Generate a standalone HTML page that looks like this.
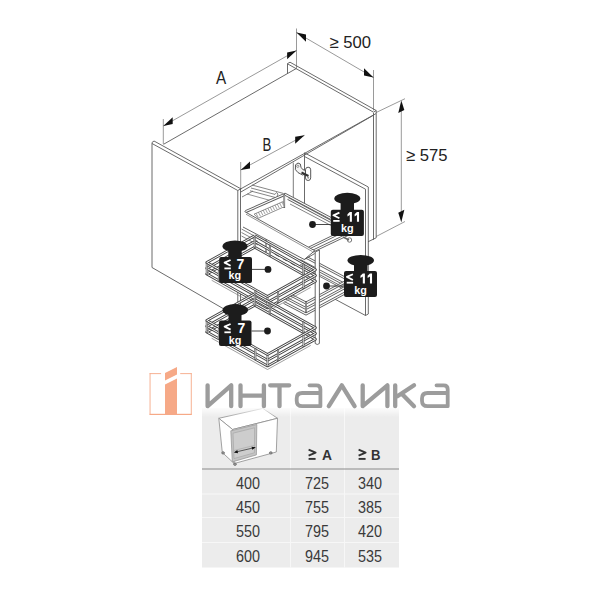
<!DOCTYPE html><html><head><meta charset="utf-8"><style>html,body{margin:0;padding:0;background:#fff;overflow:hidden;width:600px;height:600px;}svg{display:block;}text{font-family:"Liberation Sans",sans-serif;}</style></head><body>
<svg width="600" height="600" viewBox="0 0 600 600">
<rect width="600" height="600" fill="#fff"/>
<rect x="202" y="408" width="197" height="159.5" fill="#ececec"/>
<rect x="202" y="493.5" width="197" height="1" fill="#f7f7f7"/>
<rect x="202" y="517.0" width="197" height="1" fill="#f7f7f7"/>
<rect x="202" y="542.0" width="197" height="1" fill="#f7f7f7"/>
<rect x="290.0" y="408" width="1" height="160" fill="#f7f7f7"/>
<rect x="344.0" y="408" width="1" height="160" fill="#f7f7f7"/>
<rect x="202" y="468.5" width="197" height="1" fill="#8a8a8a"/>
<path d="M308.60,449.60 L315.60,452.58 L308.60,455.55" fill="none" stroke="#333" stroke-width="1.9" stroke-linejoin="round" stroke-linejoin="miter" stroke-linecap="butt"/>
<path d="M308.60,458.90 L315.60,458.90" fill="none" stroke="#333" stroke-width="1.9" stroke-linejoin="round" />
<path d="M358.60,449.60 L365.60,452.58 L358.60,455.55" fill="none" stroke="#333" stroke-width="1.9" stroke-linejoin="round" stroke-linejoin="miter" stroke-linecap="butt"/>
<path d="M358.60,458.90 L365.60,458.90" fill="none" stroke="#333" stroke-width="1.9" stroke-linejoin="round" />
<text x="322" y="460.3" font-size="15.5" font-weight="bold" fill="#333" textLength="10" lengthAdjust="spacingAndGlyphs">A</text>
<text x="371" y="460.3" font-size="15.5" font-weight="bold" fill="#333" textLength="9.5" lengthAdjust="spacingAndGlyphs">B</text>
<text x="236" y="489.0" font-size="15.8" font-weight="normal" fill="#3a3a3a" textLength="24" lengthAdjust="spacingAndGlyphs">400</text>
<text x="305" y="489.0" font-size="15.8" font-weight="normal" fill="#3a3a3a" textLength="24" lengthAdjust="spacingAndGlyphs">725</text>
<text x="358" y="489.0" font-size="15.8" font-weight="normal" fill="#3a3a3a" textLength="24" lengthAdjust="spacingAndGlyphs">340</text>
<text x="236" y="513.2" font-size="15.8" font-weight="normal" fill="#3a3a3a" textLength="24" lengthAdjust="spacingAndGlyphs">450</text>
<text x="305" y="513.2" font-size="15.8" font-weight="normal" fill="#3a3a3a" textLength="24" lengthAdjust="spacingAndGlyphs">755</text>
<text x="358" y="513.2" font-size="15.8" font-weight="normal" fill="#3a3a3a" textLength="24" lengthAdjust="spacingAndGlyphs">385</text>
<text x="236" y="537.4" font-size="15.8" font-weight="normal" fill="#3a3a3a" textLength="24" lengthAdjust="spacingAndGlyphs">550</text>
<text x="305" y="537.4" font-size="15.8" font-weight="normal" fill="#3a3a3a" textLength="24" lengthAdjust="spacingAndGlyphs">795</text>
<text x="358" y="537.4" font-size="15.8" font-weight="normal" fill="#3a3a3a" textLength="24" lengthAdjust="spacingAndGlyphs">420</text>
<text x="236" y="561.6" font-size="15.8" font-weight="normal" fill="#3a3a3a" textLength="24" lengthAdjust="spacingAndGlyphs">600</text>
<text x="305" y="561.6" font-size="15.8" font-weight="normal" fill="#3a3a3a" textLength="24" lengthAdjust="spacingAndGlyphs">945</text>
<text x="358" y="561.6" font-size="15.8" font-weight="normal" fill="#3a3a3a" textLength="24" lengthAdjust="spacingAndGlyphs">535</text>
<path d="M218.80,418.30 L262.80,408.40 L277.50,418.30 L232.60,429.50 Z" fill="#fff" stroke="#8c8c8c" stroke-width="0.8" stroke-linejoin="round" />
<path d="M218.80,418.30 L222.30,452.50 L234.20,463.50 L232.60,429.50 Z" fill="#fff" stroke="#8c8c8c" stroke-width="0.8" stroke-linejoin="round" />
<path d="M232.60,429.50 L277.50,418.30 L276.30,452.00 L234.20,463.50 Z" fill="#fff" stroke="#8c8c8c" stroke-width="0.8" stroke-linejoin="round" />
<path d="M230.80,430.80 L256.80,424.40 L256.40,454.90 L232.30,461.90 Z" fill="#c4c4c4" stroke="#999" stroke-width="0.8" stroke-linejoin="round" />
<path d="M233.00,433.20 L254.60,427.80 L254.40,452.80 L234.00,458.60 Z" fill="#cdcdcd" stroke="#a8a8a8" stroke-width="0.7" stroke-linejoin="round" />
<path d="M233.60,450.60 L254.40,445.40" fill="none" stroke="#aaa" stroke-width="0.7" stroke-linejoin="round" />
<ellipse cx="223.1" cy="452.9" rx="1.4" ry="1.2" fill="#999" stroke="#666" stroke-width="0.7"/>
<ellipse cx="235" cy="464.2" rx="1.4" ry="1.2" fill="#999" stroke="#666" stroke-width="0.7"/>
<ellipse cx="270.8" cy="452.9" rx="1.4" ry="1.2" fill="#999" stroke="#666" stroke-width="0.7"/>
<path d="M235.00,452.20 L254.60,447.60" fill="none" stroke="#222" stroke-width="0.7" stroke-linejoin="round" />
<path d="M233.80,452.50 L238.05,453.15 L237.34,450.03 Z" fill="#111" stroke="none" stroke-width="0" stroke-linejoin="round" />
<path d="M255.80,447.30 L252.26,449.77 L251.55,446.65 Z" fill="#111" stroke="none" stroke-width="0" stroke-linejoin="round" />
<defs><linearGradient id="halo" x1="0" y1="0" x2="0" y2="1"><stop offset="0" stop-color="#fff" stop-opacity="0.85"/><stop offset="1" stop-color="#fff" stop-opacity="0"/></linearGradient></defs>
<rect x="202" y="408" width="197" height="9" fill="url(#halo)"/>
<rect x="149.6" y="373.2" width="0.9" height="41.6" fill="#f6a987"/>
<rect x="190.8" y="373.2" width="0.9" height="41.6" fill="#f6a987"/>
<rect x="149.6" y="373.2" width="11.5" height="0.9" fill="#f6a987"/>
<rect x="180.2" y="373.2" width="11.5" height="0.9" fill="#f6a987"/>
<rect x="149.6" y="413.8" width="42.1" height="1.2" fill="#f6a987"/>
<path d="M165.00,373.00 L177.00,367.00 L177.00,374.50 L165.00,380.50 Z" fill="#f6a987" stroke="none" stroke-width="0" stroke-linejoin="round" />
<path d="M165.00,384.50 L177.00,378.50 L177.00,414.80 L165.00,414.80 Z" fill="#f6a987" stroke="none" stroke-width="0" stroke-linejoin="round" />
<path d="M207.6,385.3 V406.2 L231.2,385.3 V406.2" fill="none" stroke="#9c9c9c" stroke-width="4.3" stroke-linecap="round" stroke-linejoin="round"/>
<path d="M240.5,385.3 V406.2 M263.9,385.3 V406.2 M240.5,395.7 H263.9" fill="none" stroke="#9c9c9c" stroke-width="4.3" stroke-linecap="round" stroke-linejoin="round"/>
<path d="M270.2,385.3 H289.2 M279.5,385.3 V406.2" fill="none" stroke="#9c9c9c" stroke-width="4.3" stroke-linecap="round" stroke-linejoin="round"/>
<path d="M309.5,385.3 H316.4 Q320.4,385.3 320.4,389.3 V406.2 M320.4,393 H302.2 Q296.7,393 296.7,398.5 V400.7 Q296.7,406.2 302.2,406.2 H320.4" fill="none" stroke="#9c9c9c" stroke-width="3.8" stroke-linecap="round" stroke-linejoin="round"/>
<path d="M328.8,406.2 L341.8,385.3 L354.6,406.2" fill="none" stroke="#9c9c9c" stroke-width="4.3" stroke-linecap="round" stroke-linejoin="round"/>
<path d="M362.7,385.3 V406.2 L387.4,385.3 V406.2" fill="none" stroke="#9c9c9c" stroke-width="4.3" stroke-linecap="round" stroke-linejoin="round"/>
<path d="M395.2,385.3 V406.2 M397,396.5 L414,385.3 M402,394 L414,406.2" fill="none" stroke="#9c9c9c" stroke-width="4.3" stroke-linecap="round" stroke-linejoin="round"/>
<path d="M436.5,385.3 H443.7 Q447.7,385.3 447.7,389.3 V406.2 M447.7,393 H427.5 Q422,393 422,398.5 V400.7 Q422,406.2 427.5,406.2 H447.7" fill="none" stroke="#9c9c9c" stroke-width="3.8" stroke-linecap="round" stroke-linejoin="round"/>
<path d="M163.50,144.30 L296.50,68.40" fill="none" stroke="#5a5a5a" stroke-width="0.9" stroke-linejoin="round" />
<path d="M287.50,73.50 L287.50,63.60 L290.00,62.20 L376.20,110.50" fill="none" stroke="#5a5a5a" stroke-width="0.9" stroke-linejoin="round" />
<path d="M287.50,63.80 L373.50,112.20" fill="none" stroke="#5a5a5a" stroke-width="0.9" stroke-linejoin="round" />
<path d="M152.00,267.50 L152.00,142.50 L154.00,141.00 L240.50,188.60" fill="none" stroke="#5a5a5a" stroke-width="0.9" stroke-linejoin="round" />
<path d="M152.00,143.50 L237.80,190.50 L237.80,330.00" fill="none" stroke="#5a5a5a" stroke-width="0.9" stroke-linejoin="round" />
<path d="M240.50,188.60 L240.50,330.00" fill="none" stroke="#5a5a5a" stroke-width="0.9" stroke-linejoin="round" />
<path d="M152.00,267.50 L237.80,317.00" fill="none" stroke="#5a5a5a" stroke-width="0.9" stroke-linejoin="round" />
<path d="M237.80,190.50 L376.20,113.50" fill="none" stroke="#5a5a5a" stroke-width="0.9" stroke-linejoin="round" />
<path d="M240.50,192.20 L373.50,115.20" fill="none" stroke="#5a5a5a" stroke-width="0.9" stroke-linejoin="round" />
<path d="M373.50,112.20 L376.20,110.50 L376.20,113.50" fill="none" stroke="#5a5a5a" stroke-width="0.9" stroke-linejoin="round" />
<path d="M373.50,113.00 L373.50,239.80" fill="none" stroke="#5a5a5a" stroke-width="0.9" stroke-linejoin="round" />
<path d="M376.20,113.50 L376.20,237.80" fill="none" stroke="#5a5a5a" stroke-width="0.9" stroke-linejoin="round" />
<path d="M368.00,241.80 L376.20,237.80" fill="none" stroke="#5a5a5a" stroke-width="0.9" stroke-linejoin="round" />
<path d="M304.50,152.80 L368.30,187.00" fill="none" stroke="#5a5a5a" stroke-width="0.9" stroke-linejoin="round" />
<path d="M304.50,156.50 L365.50,189.20" fill="none" stroke="#5a5a5a" stroke-width="0.9" stroke-linejoin="round" />
<path d="M365.50,189.20 L365.50,315.50" fill="none" stroke="#5a5a5a" stroke-width="0.9" stroke-linejoin="round" />
<path d="M368.30,187.00 L368.30,314.00" fill="none" stroke="#5a5a5a" stroke-width="0.9" stroke-linejoin="round" />
<path d="M365.50,315.50 L368.30,314.00" fill="none" stroke="#5a5a5a" stroke-width="0.9" stroke-linejoin="round" />
<path d="M365.50,315.50 L330.00,296.50" fill="none" stroke="#5a5a5a" stroke-width="0.9" stroke-linejoin="round" />
<path d="M304.50,152.80 L304.50,207.00" fill="none" stroke="#5a5a5a" stroke-width="0.9" stroke-linejoin="round" />
<path d="M293.30,162.50 L293.30,206.00" fill="none" stroke="#5a5a5a" stroke-width="0.8" stroke-linejoin="round" />
<path d="M295.5,164.8 L298,163 L300.3,164 L301,167.3 L303,169.8 L305,170 L306,173.8 L302.5,175 L298,172.6 L295.4,169.6 Z" fill="#f4f4f4" stroke="#444" stroke-width="0.9"/>
<circle cx="297.8" cy="166.3" r="1.1" fill="#fff" stroke="#555" stroke-width="0.6"/>
<rect x="305.5" y="167.2" width="5.2" height="13.3" rx="2.6" fill="#fff" stroke="#444" stroke-width="0.9"/>
<path d="M301.5,172.5 L308.5,176" stroke="#333" stroke-width="2"/>
<circle cx="308.2" cy="177.8" r="1" fill="#999"/>
<path d="M163.30,119.00 L163.30,144.00" fill="none" stroke="#555" stroke-width="0.6" stroke-linejoin="round" />
<path d="M296.50,28.50 L296.50,68.30" fill="none" stroke="#555" stroke-width="0.6" stroke-linejoin="round" />
<path d="M163.30,126.00 L296.50,50.50" fill="none" stroke="#555" stroke-width="0.6" stroke-linejoin="round" />
<path d="M163.30,126.00 L172.70,124.07 L172.70,117.27 Z" fill="#111" stroke="none" stroke-width="0" stroke-linejoin="round" />
<path d="M296.50,50.50 L287.10,59.23 L287.10,52.43 Z" fill="#111" stroke="none" stroke-width="0" stroke-linejoin="round" />
<text x="216" y="83.8" font-size="18" fill="#222" textLength="10.2" lengthAdjust="spacingAndGlyphs">A</text>
<path d="M296.50,32.50 L373.50,77.50" fill="none" stroke="#555" stroke-width="0.6" stroke-linejoin="round" />
<path d="M373.50,70.00 L373.50,110.50" fill="none" stroke="#555" stroke-width="0.6" stroke-linejoin="round" />
<path d="M296.50,32.50 L306.00,41.65 L306.00,34.45 Z" fill="#111" stroke="none" stroke-width="0" stroke-linejoin="round" />
<path d="M373.50,77.50 L364.00,75.55 L364.00,68.35 Z" fill="#111" stroke="none" stroke-width="0" stroke-linejoin="round" />
<text x="329.5" y="48.3" font-size="17" fill="#222" textLength="41.5" lengthAdjust="spacingAndGlyphs">≥ 500</text>
<path d="M376.20,112.50 L405.00,98.70" fill="none" stroke="#555" stroke-width="0.6" stroke-linejoin="round" />
<path d="M376.20,236.50 L405.00,221.50" fill="none" stroke="#555" stroke-width="0.6" stroke-linejoin="round" />
<path d="M401.30,104.00 L401.30,219.00" fill="none" stroke="#555" stroke-width="0.6" stroke-linejoin="round" />
<path d="M401.30,100.50 L404.34,109.98 L398.26,113.02 Z" fill="#111" stroke="none" stroke-width="0" stroke-linejoin="round" />
<path d="M401.30,222.30 L404.34,209.78 L398.26,212.82 Z" fill="#111" stroke="none" stroke-width="0" stroke-linejoin="round" />
<text x="406" y="160.8" font-size="17" fill="#222" textLength="41.5" lengthAdjust="spacingAndGlyphs">≥ 575</text>
<path d="M240.70,162.00 L240.70,190.00" fill="none" stroke="#555" stroke-width="0.6" stroke-linejoin="round" />
<path d="M240.70,170.00 L304.50,135.30" fill="none" stroke="#555" stroke-width="0.6" stroke-linejoin="round" />
<path d="M240.70,170.00 L250.01,168.44 L250.01,161.44 Z" fill="#111" stroke="none" stroke-width="0" stroke-linejoin="round" />
<path d="M304.50,135.30 L295.19,143.86 L295.19,136.86 Z" fill="#111" stroke="none" stroke-width="0" stroke-linejoin="round" />
<text x="262.6" y="151.3" font-size="17.5" fill="#222" textLength="8.8" lengthAdjust="spacingAndGlyphs">B</text>
<path d="M252.00,185.00 L283.00,193.30" fill="none" stroke="#666" stroke-width="0.8" stroke-linejoin="round" />
<path d="M251.00,188.00 L275.00,194.40 L276.50,192.50 L278.00,194.00 L277.00,196.50 L283.00,198.00" fill="none" stroke="#666" stroke-width="0.8" stroke-linejoin="round" />
<path d="M250.00,190.80 L281.00,199.00" fill="none" stroke="#666" stroke-width="0.8" stroke-linejoin="round" />
<path d="M247.00,194.00 L274.00,201.50" fill="none" stroke="#666" stroke-width="0.7" stroke-linejoin="round" />
<path d="M242.00,197.00 L253.00,191.00" fill="none" stroke="#666" stroke-width="0.8" stroke-linejoin="round" />
<path d="M244.50,211.50 L286.00,193.50 L340.00,222.00 L314.70,250.70 Z" fill="#fff" stroke="none" stroke-width="0" stroke-linejoin="round" />
<path d="M245.70,211.60 L285.00,194.30 L331.00,218.50" fill="none" stroke="#5c5c5c" stroke-width="2.9" stroke-linejoin="round" stroke-linecap="butt"/><path d="M245.70,211.60 L285.00,194.30 L331.00,218.50" fill="none" stroke="#fff" stroke-width="1.1" stroke-linejoin="round" stroke-linecap="butt"/>
<path d="M288.00,198.50 L331.00,221.50" fill="none" stroke="#5c5c5c" stroke-width="2.9" stroke-linejoin="round" stroke-linecap="butt"/><path d="M288.00,198.50 L331.00,221.50" fill="none" stroke="#fff" stroke-width="1.1" stroke-linejoin="round" stroke-linecap="butt"/>
<path d="M290.00,204.00 L331.00,225.50" fill="none" stroke="#666" stroke-width="0.8" stroke-linejoin="round" />
<path d="M284.20,194.00 L284.20,208.00" fill="none" stroke="#666" stroke-width="1.8" stroke-linejoin="round" />
<path d="M284.20,195.00 L284.20,207.00" fill="none" stroke="#fff" stroke-width="0.5" stroke-linejoin="round" />
<path d="M254.00,214.20 L283.30,201.50 L284.50,206.60 L258.50,218.20 L254.00,214.20" fill="#fff" stroke="#666" stroke-width="0.7" stroke-linejoin="round" />
<path d="M256.00,213.20 L258.20,217.40" fill="none" stroke="#666" stroke-width="0.6" stroke-linejoin="round" /><path d="M258.35,212.17 L260.55,216.37" fill="none" stroke="#666" stroke-width="0.6" stroke-linejoin="round" /><path d="M260.70,211.14 L262.90,215.34" fill="none" stroke="#666" stroke-width="0.6" stroke-linejoin="round" /><path d="M263.05,210.11 L265.25,214.31" fill="none" stroke="#666" stroke-width="0.6" stroke-linejoin="round" /><path d="M265.40,209.08 L267.60,213.28" fill="none" stroke="#666" stroke-width="0.6" stroke-linejoin="round" /><path d="M267.75,208.05 L269.95,212.25" fill="none" stroke="#666" stroke-width="0.6" stroke-linejoin="round" /><path d="M270.10,207.02 L272.30,211.22" fill="none" stroke="#666" stroke-width="0.6" stroke-linejoin="round" /><path d="M272.45,205.99 L274.65,210.19" fill="none" stroke="#666" stroke-width="0.6" stroke-linejoin="round" /><path d="M274.80,204.96 L277.00,209.16" fill="none" stroke="#666" stroke-width="0.6" stroke-linejoin="round" /><path d="M277.15,203.93 L279.35,208.13" fill="none" stroke="#666" stroke-width="0.6" stroke-linejoin="round" /><path d="M279.50,202.90 L281.70,207.10" fill="none" stroke="#666" stroke-width="0.6" stroke-linejoin="round" /><path d="M281.85,201.87 L284.05,206.07" fill="none" stroke="#666" stroke-width="0.6" stroke-linejoin="round" />
<path d="M309.00,248.00 L348.00,229.00" fill="none" stroke="#5c5c5c" stroke-width="2.9" stroke-linejoin="round" stroke-linecap="butt"/><path d="M309.00,248.00 L348.00,229.00" fill="none" stroke="#fff" stroke-width="1.1" stroke-linejoin="round" stroke-linecap="butt"/>
<path d="M311.00,252.00 L350.00,233.50" fill="none" stroke="#5c5c5c" stroke-width="2.9" stroke-linejoin="round" stroke-linecap="butt"/><path d="M311.00,252.00 L350.00,233.50" fill="none" stroke="#fff" stroke-width="1.1" stroke-linejoin="round" stroke-linecap="butt"/>
<circle cx="349.5" cy="240" r="2.2" fill="#fff" stroke="#555" stroke-width="0.8"/>
<path d="M343.00,237.00 L349.00,240.00" fill="none" stroke="#666" stroke-width="1.5" stroke-linejoin="round" />
<path d="M300.00,255.00 L345.00,278.00 L345.00,292.00 L306.00,312.00 L286.00,300.00 Z" fill="#fff" stroke="none" stroke-width="0" stroke-linejoin="round" />
<path d="M300.00,254.00 L345.00,278.00" fill="none" stroke="#5c5c5c" stroke-width="2.9" stroke-linejoin="round" stroke-linecap="butt"/><path d="M300.00,254.00 L345.00,278.00" fill="none" stroke="#fff" stroke-width="1.1" stroke-linejoin="round" stroke-linecap="butt"/>
<path d="M300.00,260.50 L345.00,284.50" fill="none" stroke="#5c5c5c" stroke-width="2.9" stroke-linejoin="round" stroke-linecap="butt"/><path d="M300.00,260.50 L345.00,284.50" fill="none" stroke="#fff" stroke-width="1.1" stroke-linejoin="round" stroke-linecap="butt"/>
<path d="M300.00,265.00 L345.00,289.00" fill="none" stroke="#5c5c5c" stroke-width="2.4" stroke-linejoin="round" stroke-linecap="butt"/><path d="M300.00,265.00 L345.00,289.00" fill="none" stroke="#fff" stroke-width="0.9" stroke-linejoin="round" stroke-linecap="butt"/>
<path d="M284.00,291.50 L306.00,303.00 L345.00,282.00" fill="none" stroke="#5c5c5c" stroke-width="2.9" stroke-linejoin="round" stroke-linecap="butt"/><path d="M284.00,291.50 L306.00,303.00 L345.00,282.00" fill="none" stroke="#fff" stroke-width="1.1" stroke-linejoin="round" stroke-linecap="butt"/>
<path d="M284.00,297.00 L306.00,308.50 L345.00,287.50" fill="none" stroke="#5c5c5c" stroke-width="2.9" stroke-linejoin="round" stroke-linecap="butt"/><path d="M284.00,297.00 L306.00,308.50 L345.00,287.50" fill="none" stroke="#fff" stroke-width="1.1" stroke-linejoin="round" stroke-linecap="butt"/>
<path d="M284.00,302.50 L306.00,314.00 L345.00,293.00" fill="none" stroke="#5c5c5c" stroke-width="2.9" stroke-linejoin="round" stroke-linecap="butt"/><path d="M284.00,302.50 L306.00,314.00 L345.00,293.00" fill="none" stroke="#fff" stroke-width="1.1" stroke-linejoin="round" stroke-linecap="butt"/>
<path d="M306.00,301.00 L306.00,313.00" fill="none" stroke="#5a5a5a" stroke-width="2.0" stroke-linejoin="round" />
<path d="M306.00,302.00 L306.00,312.00" fill="none" stroke="#fff" stroke-width="0.6" stroke-linejoin="round" />
<path d="M241.50,229.00 L258.00,238.00" fill="none" stroke="#666" stroke-width="0.8" stroke-linejoin="round" />
<path d="M241.50,232.50 L258.00,241.50" fill="none" stroke="#666" stroke-width="0.8" stroke-linejoin="round" />
<path d="M241.50,236.00 L258.00,245.00" fill="none" stroke="#666" stroke-width="0.8" stroke-linejoin="round" />
<path d="M266.00,239.50 L266.00,252.00" fill="none" stroke="#666" stroke-width="1.6" stroke-linejoin="round" />
<path d="M266.00,240.50 L266.00,251.00" fill="none" stroke="#fff" stroke-width="0.5" stroke-linejoin="round" />
<path d="M304.00,262.00 L304.00,286.00" fill="none" stroke="#666" stroke-width="1.8" stroke-linejoin="round" />
<path d="M304.00,263.00 L304.00,285.00" fill="none" stroke="#fff" stroke-width="0.6" stroke-linejoin="round" />
<path d="M275.00,254.00 L279.00,256.20" fill="none" stroke="#333" stroke-width="1.2" stroke-linejoin="round" />
<path d="M283.00,258.50 L287.00,260.70" fill="none" stroke="#333" stroke-width="1.2" stroke-linejoin="round" />
<path d="M291.00,263.00 L295.00,265.20" fill="none" stroke="#333" stroke-width="1.2" stroke-linejoin="round" />
<path d="M244.50,211.50 L314.70,250.70 L304.30,259.50 L243.00,227.00 Z" fill="#fff" stroke="none" stroke-width="0" stroke-linejoin="round" />
<path d="M244.50,211.50 L314.70,250.70 L304.30,259.50 L243.00,227.00" fill="none" stroke="#555" stroke-width="0.9" stroke-linejoin="round" />
<path d="M246.00,214.20 L312.50,251.60" fill="none" stroke="#666" stroke-width="0.7" stroke-linejoin="round" />
<path d="M315.2,252 L319.4,250 L319.4,343.5 Q317.3,345.5 315.2,343.5 Z" fill="#fff" stroke="#555" stroke-width="0.9"/>
<path d="M304.30,259.50 L314.80,253.50" fill="none" stroke="#555" stroke-width="0.9" stroke-linejoin="round" />
<path d="M206.75,273.50 L267.50,307.50 L315.50,280.75 L254.75,246.75 Z" fill="#fff" stroke="none" stroke-width="0" stroke-linejoin="round" />
<path d="M211.61,280.22 L267.50,311.50 L310.70,287.43" fill="none" stroke="#777" stroke-width="0.7" stroke-linejoin="round" />
<path d="M254.75,247.25 L206.75,274.00 L267.50,308.00 L315.50,281.25 L254.75,247.25" fill="none" stroke="#4a4a4a" stroke-width="2.7" stroke-linejoin="round" stroke-linecap="butt"/><path d="M254.75,247.25 L206.75,274.00 L267.50,308.00 L315.50,281.25 L254.75,247.25" fill="none" stroke="#fff" stroke-width="1.0" stroke-linejoin="round" stroke-linecap="butt"/>
<path d="M254.75,241.55 L206.75,268.30 L267.50,302.30 L315.50,275.55 L254.75,241.55" fill="none" stroke="#4a4a4a" stroke-width="2.7" stroke-linejoin="round" stroke-linecap="butt"/><path d="M254.75,241.55 L206.75,268.30 L267.50,302.30 L315.50,275.55 L254.75,241.55" fill="none" stroke="#fff" stroke-width="1.0" stroke-linejoin="round" stroke-linecap="butt"/>
<path d="M254.75,235.75 L206.75,262.50 L267.50,296.50 L315.50,269.75 L254.75,235.75" fill="none" stroke="#4a4a4a" stroke-width="2.7" stroke-linejoin="round" stroke-linecap="butt"/><path d="M254.75,235.75 L206.75,262.50 L267.50,296.50 L315.50,269.75 L254.75,235.75" fill="none" stroke="#fff" stroke-width="1.0" stroke-linejoin="round" stroke-linecap="butt"/>
<path d="M206.75,263.00 L206.75,275.00" fill="none" stroke="#5a5a5a" stroke-width="2.0" stroke-linejoin="round" /><path d="M206.75,264.00 L206.75,274.00" fill="none" stroke="#fff" stroke-width="0.6" stroke-linejoin="round" />
<path d="M218.90,269.80 L218.90,281.80" fill="none" stroke="#5a5a5a" stroke-width="2.0" stroke-linejoin="round" /><path d="M218.90,270.80 L218.90,280.80" fill="none" stroke="#fff" stroke-width="0.6" stroke-linejoin="round" />
<path d="M255.35,290.20 L255.35,302.20" fill="none" stroke="#5a5a5a" stroke-width="2.0" stroke-linejoin="round" /><path d="M255.35,291.20 L255.35,301.20" fill="none" stroke="#fff" stroke-width="0.6" stroke-linejoin="round" />
<path d="M267.50,297.00 L267.50,309.00" fill="none" stroke="#5a5a5a" stroke-width="2.0" stroke-linejoin="round" /><path d="M267.50,298.00 L267.50,308.00" fill="none" stroke="#fff" stroke-width="0.6" stroke-linejoin="round" />
<path d="M278.06,291.12 L278.06,303.12" fill="none" stroke="#5a5a5a" stroke-width="2.0" stroke-linejoin="round" /><path d="M278.06,292.12 L278.06,302.12" fill="none" stroke="#fff" stroke-width="0.6" stroke-linejoin="round" />
<path d="M303.50,276.94 L303.50,288.94" fill="none" stroke="#5a5a5a" stroke-width="2.0" stroke-linejoin="round" /><path d="M303.50,277.94 L303.50,287.94" fill="none" stroke="#fff" stroke-width="0.6" stroke-linejoin="round" />
<path d="M269.94,244.75 L269.94,256.75" fill="none" stroke="#5a5a5a" stroke-width="2.0" stroke-linejoin="round" /><path d="M269.94,245.75 L269.94,255.75" fill="none" stroke="#fff" stroke-width="0.6" stroke-linejoin="round" />
<path d="M303.35,263.45 L303.35,275.45" fill="none" stroke="#5a5a5a" stroke-width="2.0" stroke-linejoin="round" /><path d="M303.35,264.45 L303.35,274.45" fill="none" stroke="#fff" stroke-width="0.6" stroke-linejoin="round" />
<path d="M254.75,236.25 L254.75,248.25" fill="none" stroke="#5a5a5a" stroke-width="2.0" stroke-linejoin="round" /><path d="M254.75,237.25 L254.75,247.25" fill="none" stroke="#fff" stroke-width="0.6" stroke-linejoin="round" />
<path d="M206.75,331.50 L267.50,365.50 L315.50,338.75 L254.75,304.75 Z" fill="#fff" stroke="none" stroke-width="0" stroke-linejoin="round" />
<path d="M211.61,338.22 L267.50,369.50 L310.70,345.43" fill="none" stroke="#777" stroke-width="0.7" stroke-linejoin="round" />
<path d="M254.75,305.25 L206.75,332.00 L267.50,366.00 L315.50,339.25 L254.75,305.25" fill="none" stroke="#4a4a4a" stroke-width="2.7" stroke-linejoin="round" stroke-linecap="butt"/><path d="M254.75,305.25 L206.75,332.00 L267.50,366.00 L315.50,339.25 L254.75,305.25" fill="none" stroke="#fff" stroke-width="1.0" stroke-linejoin="round" stroke-linecap="butt"/>
<path d="M254.75,299.55 L206.75,326.30 L267.50,360.30 L315.50,333.55 L254.75,299.55" fill="none" stroke="#4a4a4a" stroke-width="2.7" stroke-linejoin="round" stroke-linecap="butt"/><path d="M254.75,299.55 L206.75,326.30 L267.50,360.30 L315.50,333.55 L254.75,299.55" fill="none" stroke="#fff" stroke-width="1.0" stroke-linejoin="round" stroke-linecap="butt"/>
<path d="M254.75,293.75 L206.75,320.50 L267.50,354.50 L315.50,327.75 L254.75,293.75" fill="none" stroke="#4a4a4a" stroke-width="2.7" stroke-linejoin="round" stroke-linecap="butt"/><path d="M254.75,293.75 L206.75,320.50 L267.50,354.50 L315.50,327.75 L254.75,293.75" fill="none" stroke="#fff" stroke-width="1.0" stroke-linejoin="round" stroke-linecap="butt"/>
<path d="M206.75,321.00 L206.75,333.00" fill="none" stroke="#5a5a5a" stroke-width="2.0" stroke-linejoin="round" /><path d="M206.75,322.00 L206.75,332.00" fill="none" stroke="#fff" stroke-width="0.6" stroke-linejoin="round" />
<path d="M218.90,327.80 L218.90,339.80" fill="none" stroke="#5a5a5a" stroke-width="2.0" stroke-linejoin="round" /><path d="M218.90,328.80 L218.90,338.80" fill="none" stroke="#fff" stroke-width="0.6" stroke-linejoin="round" />
<path d="M255.35,348.20 L255.35,360.20" fill="none" stroke="#5a5a5a" stroke-width="2.0" stroke-linejoin="round" /><path d="M255.35,349.20 L255.35,359.20" fill="none" stroke="#fff" stroke-width="0.6" stroke-linejoin="round" />
<path d="M267.50,355.00 L267.50,367.00" fill="none" stroke="#5a5a5a" stroke-width="2.0" stroke-linejoin="round" /><path d="M267.50,356.00 L267.50,366.00" fill="none" stroke="#fff" stroke-width="0.6" stroke-linejoin="round" />
<path d="M278.06,349.12 L278.06,361.12" fill="none" stroke="#5a5a5a" stroke-width="2.0" stroke-linejoin="round" /><path d="M278.06,350.12 L278.06,360.12" fill="none" stroke="#fff" stroke-width="0.6" stroke-linejoin="round" />
<path d="M303.50,334.94 L303.50,346.94" fill="none" stroke="#5a5a5a" stroke-width="2.0" stroke-linejoin="round" /><path d="M303.50,335.94 L303.50,345.94" fill="none" stroke="#fff" stroke-width="0.6" stroke-linejoin="round" />
<path d="M269.94,302.75 L269.94,314.75" fill="none" stroke="#5a5a5a" stroke-width="2.0" stroke-linejoin="round" /><path d="M269.94,303.75 L269.94,313.75" fill="none" stroke="#fff" stroke-width="0.6" stroke-linejoin="round" />
<path d="M303.35,321.45 L303.35,333.45" fill="none" stroke="#5a5a5a" stroke-width="2.0" stroke-linejoin="round" /><path d="M303.35,322.45 L303.35,332.45" fill="none" stroke="#fff" stroke-width="0.6" stroke-linejoin="round" />
<path d="M254.75,294.25 L254.75,306.25" fill="none" stroke="#5a5a5a" stroke-width="2.0" stroke-linejoin="round" /><path d="M254.75,295.25 L254.75,305.25" fill="none" stroke="#fff" stroke-width="0.6" stroke-linejoin="round" />
<path d="M312.50,224.50 L330.80,224.50" fill="none" stroke="#333" stroke-width="0.9" stroke-linejoin="round" />
<circle cx="312.5" cy="224.5" r="3.4" fill="#1c1c1c"/>
<ellipse cx="347.3" cy="198.5" rx="13" ry="5.8" fill="#1c1c1c"/>
<rect x="340.6" y="202" width="13.399999999999977" height="8.5" fill="#1c1c1c"/>
<rect x="330.8" y="209.8" width="33.099999999999966" height="26.19999999999999" rx="2" fill="#1c1c1c"/>
<path d="M339.40,212.70 L333.40,215.30 L339.40,218.31" fill="none" stroke="#fff" stroke-width="1.8" stroke-linejoin="round" stroke-linejoin="miter"/>
<path d="M333.20,220.90 L339.60,220.90" fill="none" stroke="#fff" stroke-width="1.8" stroke-linejoin="round" />
<path d="M349.80,212.10 L351.90,212.10 L351.90,221.80 L349.80,221.80 L349.80,215.10 L347.45,216.40 L347.45,214.30 Z" fill="#fff" stroke="none" stroke-width="0" stroke-linejoin="round" />
<path d="M356.95,212.10 L359.05,212.10 L359.05,221.80 L356.95,221.80 L356.95,215.10 L354.60,216.40 L354.60,214.30 Z" fill="#fff" stroke="none" stroke-width="0" stroke-linejoin="round" />
<text x="347.3" y="232.2" font-size="10.8" font-weight="bold" fill="#fff" text-anchor="middle">kg</text>
<path d="M268.00,269.40 L252.00,269.40" fill="none" stroke="#333" stroke-width="0.9" stroke-linejoin="round" />
<circle cx="268" cy="269.4" r="3.4" fill="#1c1c1c"/>
<ellipse cx="235" cy="246.2" rx="12.5" ry="5.8" fill="#1c1c1c"/>
<rect x="228.3" y="251" width="13.399999999999977" height="6.5" fill="#1c1c1c"/>
<rect x="219.2" y="257" width="32.80000000000001" height="26" rx="2" fill="#1c1c1c"/>
<path d="M230.60,260.00 L224.60,262.67 L230.60,265.74" fill="none" stroke="#fff" stroke-width="1.8" stroke-linejoin="round" stroke-linejoin="miter"/>
<path d="M224.40,268.40 L230.80,268.40" fill="none" stroke="#fff" stroke-width="1.8" stroke-linejoin="round" />
<text x="236.4" y="269.3" font-size="14" font-weight="bold" fill="#fff">7</text>
<text x="234.8" y="279.3" font-size="10.8" font-weight="bold" fill="#fff" text-anchor="middle">kg</text>
<path d="M326.50,286.00 L344.00,286.00" fill="none" stroke="#333" stroke-width="0.9" stroke-linejoin="round" />
<circle cx="326.5" cy="286" r="3.4" fill="#1c1c1c"/>
<ellipse cx="360.75" cy="260.5" rx="13.25" ry="5.5" fill="#1c1c1c"/>
<rect x="354" y="265" width="13.5" height="6.5" fill="#1c1c1c"/>
<rect x="344" y="271" width="33" height="26" rx="2" fill="#1c1c1c"/>
<path d="M352.90,274.20 L346.90,276.90 L352.90,280.00" fill="none" stroke="#fff" stroke-width="1.8" stroke-linejoin="round" stroke-linejoin="miter"/>
<path d="M346.70,282.70 L353.10,282.70" fill="none" stroke="#fff" stroke-width="1.8" stroke-linejoin="round" />
<path d="M362.80,273.60 L364.90,273.60 L364.90,283.60 L362.80,283.60 L362.80,276.60 L360.45,277.90 L360.45,275.80 Z" fill="#fff" stroke="none" stroke-width="0" stroke-linejoin="round" />
<path d="M369.95,273.60 L372.05,273.60 L372.05,283.60 L369.95,283.60 L369.95,276.60 L367.60,277.90 L367.60,275.80 Z" fill="#fff" stroke="none" stroke-width="0" stroke-linejoin="round" />
<text x="360.5" y="294.4" font-size="10.8" font-weight="bold" fill="#fff" text-anchor="middle">kg</text>
<path d="M267.50,331.00 L251.50,331.00" fill="none" stroke="#333" stroke-width="0.9" stroke-linejoin="round" />
<circle cx="267.5" cy="331" r="3.4" fill="#1c1c1c"/>
<ellipse cx="235.25" cy="310" rx="12.75" ry="6" fill="#1c1c1c"/>
<rect x="228.5" y="315" width="13.0" height="6" fill="#1c1c1c"/>
<rect x="219" y="320.5" width="32.5" height="25.5" rx="2" fill="#1c1c1c"/>
<path d="M230.60,324.00 L224.60,326.63 L230.60,329.67" fill="none" stroke="#fff" stroke-width="1.8" stroke-linejoin="round" stroke-linejoin="miter"/>
<path d="M224.40,332.30 L230.80,332.30" fill="none" stroke="#fff" stroke-width="1.8" stroke-linejoin="round" />
<text x="237.6" y="333.2" font-size="14" font-weight="bold" fill="#fff">7</text>
<text x="235" y="343.6" font-size="10.8" font-weight="bold" fill="#fff" text-anchor="middle">kg</text>
</svg></body></html>
